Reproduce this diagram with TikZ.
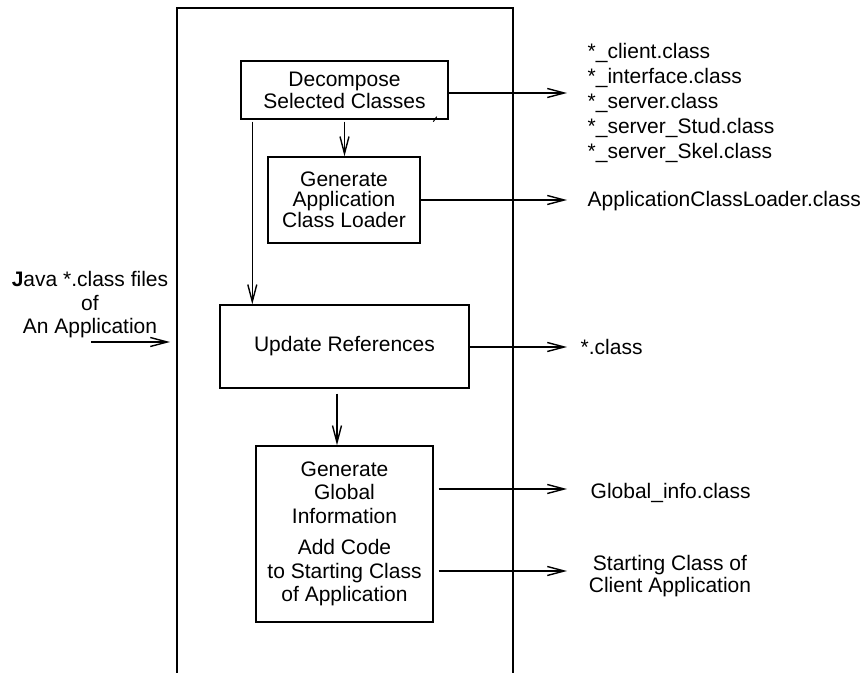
\documentclass[tikz,border=0pt]{standalone}
\usepackage{fontspec}
\setmainfont{Liberation Sans}
\usetikzlibrary{arrows.meta}
\newcommand{\fsz}[1]{\fontsize{10.5pt}{#1}\selectfont}
\begin{document}
\begin{tikzpicture}[x=0.5pt,y=-0.5pt,
  line width=0.7pt,
  box/.style={draw,rectangle,inner sep=0pt,align=center},
  lbl/.style={inner sep=0pt},
  arr/.style={-{Straight Barb[length=8.5pt,width=4.5pt]}},
]
\useasboundingbox (0,0) rectangle (864,673);

% outer frame (open at the bottom)
\coordinate (fbl) at (177,673);
\coordinate (ftl) at (177,8);
\coordinate (ftr) at (513,8);
\coordinate (fbr) at (513,673);
\draw (fbl) -- (ftl) -- (ftr) -- (fbr);

% process boxes
\node[box,minimum width=103.5pt,minimum height=29pt,font=\fsz{11pt}] (dec) at (344.5,90)
  {Decompose\\Selected Classes};
\node[box,minimum width=76pt,minimum height=43pt,font=\fsz{9.75pt}] (gacl) at (344,200)
  {Generate\\Application\\Class Loader};
\node[box,minimum width=124.5pt,minimum height=41.5pt,font=\fsz{12pt}] (upd) at (344.5,346.5)
  {Update References};
\node[box,minimum width=88.5pt,minimum height=88pt,font=\fsz{11.75pt}] (ggi) at (344.5,534)
  {Generate\\Global\\Information\\[4pt]Add Code\\to Starting Class\\of Application};

% small tick mark
\draw[line width=0.5pt] (433.3,121.7) -- (436.7,116.7);

% inner arrows
\draw[arr,shorten <=1pt] (dec.south) -- (dec.south |- gacl.north);
\draw[arr,shorten <=1pt] ([xshift=6pt]dec.south west) -- ([xshift=6pt]dec.south west |- upd.north);
\draw[arr,shorten <=2.5pt] ([xshift=-3.75pt]upd.south) -- ([xshift=-3.75pt]upd.south |- ggi.north);

% input
\node[lbl,align=center,font=\fsz{11.75pt}] (java) at (90,305)
  {\textbf{J}ava *.class files\\of\\An Application};
\coordinate (jin) at (91,342);
\draw[arr,shorten >=3.5pt] (jin) -- (jin -| ftl);

% outputs
\coordinate (o1) at (567,93);
\coordinate (o2) at (567,200);
\coordinate (o3) at (567,347);
\coordinate (o4) at (567,489);
\coordinate (o5) at (567,571);
\draw[arr] (dec.east |- o1) -- (o1);
\draw[arr] (gacl.east |- o2) -- (o2);
\draw[arr] (upd.east |- o3) -- (o3);
\draw[arr,shorten <=2.5pt] (ggi.east |- o4) -- (o4);
\draw[arr,shorten <=2.5pt] (ggi.east |- o5) -- (o5);

% output labels
\node[lbl,align=left,anchor=west,font=\fsz{12.5pt}] (l1) at (587,103)
  {*\_client.class\\*\_interface.class\\*\_server.class\\*\_server\_Stud.class\\*\_server\_Skel.class};
\node[lbl,anchor=west,font=\fsz{12pt}] (l2) at (587,201) {ApplicationClassLoader.class};
\node[lbl,anchor=west,font=\fsz{12pt}] (l3) at (580,347) {*.class};
\node[lbl,anchor=west,font=\fsz{12pt}] (l4) at (590,493) {Global\_info.class};
\node[lbl,align=center,font=\fsz{9pt}] (l5) at (670,576) {Starting Class of\\Client Application};
\end{tikzpicture}
\end{document}
